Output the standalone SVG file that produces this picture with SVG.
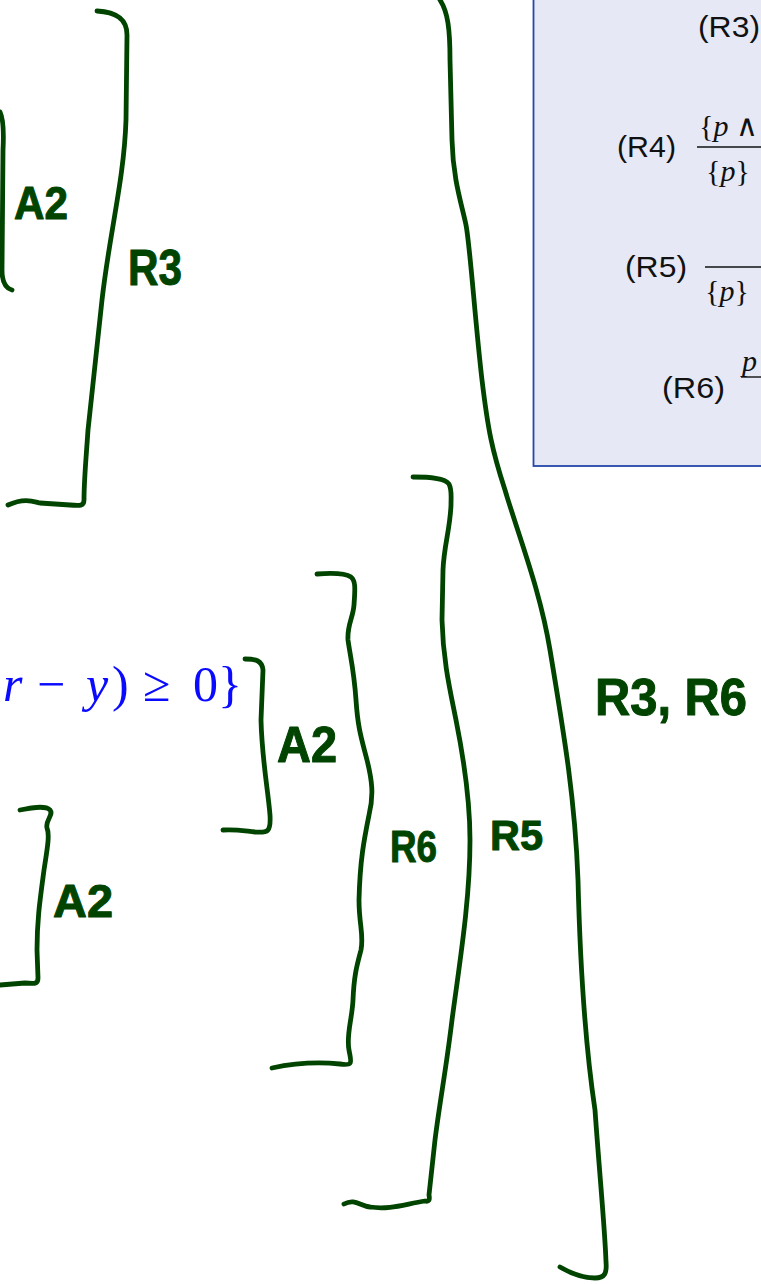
<svg xmlns="http://www.w3.org/2000/svg" width="761" height="1284" viewBox="0 0 761 1284">
<style>
.ink{fill:none;stroke:#004400;stroke-width:4.8;stroke-linecap:round;stroke-linejoin:round}
.hw{font-family:"Liberation Sans","DejaVu Sans",sans-serif;font-weight:bold;fill:#004400;stroke:#004400;stroke-width:1;stroke-linejoin:round}
.rule{font-family:"Liberation Sans",Arial,sans-serif;font-size:29px;fill:#111}
.m{font-family:"Liberation Serif","DejaVu Serif",serif;font-size:30px;fill:#111}
.blue{font-family:"Liberation Serif","DejaVu Serif",serif;font-size:50px;fill:#0a0aff}
</style>
<rect width="761" height="1284" fill="#ffffff"/>
<g id="rules-box">
<rect x="533.5" y="-4" width="240" height="470" fill="#e6e9f5" stroke="#2348a8" stroke-width="1.8"/>
<text class="rule" x="698" y="37" textLength="62" lengthAdjust="spacingAndGlyphs">(R3)</text>
<text class="rule" x="617" y="157" textLength="59" lengthAdjust="spacingAndGlyphs">(R4)</text>
<text class="m" x="699" y="136">{<tspan font-style="italic">p</tspan> ∧</text>
<line x1="697" y1="147" x2="761" y2="147" stroke="#111" stroke-width="1.4"/>
<text class="m" x="706" y="181">{<tspan font-style="italic">p</tspan>}</text>
<text class="rule" x="625" y="277" textLength="62" lengthAdjust="spacingAndGlyphs">(R5)</text>
<line x1="705" y1="267" x2="761" y2="267" stroke="#111" stroke-width="1.4"/>
<text class="m" x="705" y="301">{<tspan font-style="italic">p</tspan>}</text>
<text class="rule" x="662" y="398" textLength="63" lengthAdjust="spacingAndGlyphs">(R6)</text>
<text class="m" x="742" y="371" font-style="italic">p</text>
<line x1="741" y1="377" x2="761" y2="377" stroke="#111" stroke-width="1.4"/>
</g>
<g id="formula">
<text class="blue" y="701"><tspan x="3" font-style="italic">r</tspan><tspan x="37">−</tspan><tspan x="86" font-style="italic">y</tspan><tspan x="112">)</tspan><tspan x="143">≥</tspan><tspan x="193">0</tspan><tspan x="218">}</tspan></text>
</g>
<g id="connectors">
<path id="br-r3" class="ink" d="M97,11 C115,12 127,18 127,35 L126,120 C124,180 110,230 102,300 L88,430 C86,460 84,480 84,500 C84,506 80,506 70,505 L40,503 C35,502 25,497 8,505"/>
<path id="br-a2-top" class="ink" d="M0,112 C3,118 4,130 3,150 L2,270 C2,282 5,288 12,290"/>
<path id="br-r3r6" class="ink" d="M440,0 C448,12 450,30 450,60 L452,140 C453,180 462,205 466,225 C470,245 475,320 482,380 C488,430 492,450 505,490 C520,540 540,590 550,650 C565,740 575,800 578,880 C580,960 586,1050 595,1110 C600,1180 605,1230 606,1262 C607,1273 605,1278 595,1278 C585,1278 572,1274 560,1267"/>
<path id="br-r5" class="ink" d="M413,477 C430,477 445,478 449,484 C452,490 451,495 451,505 C450,530 444,545 443,570 L442,620 C443,660 450,690 456,720 C464,760 470,800 470,840 C470,900 460,960 452,1020 C446,1070 440,1100 435,1140 L429,1195 C430,1200 429,1202 425,1201 C405,1204 390,1210 370,1207 C360,1206 355,1198 344,1204"/>
<path id="br-r6" class="ink" d="M317,574 C330,573 345,573 351,577 C356,581 355,590 354,605 C353,618 347,625 348,640 C350,655 354,670 356,700 C358,730 362,740 367,760 C372,780 374,795 369,815 C364,840 360,860 359,900 C359,925 364,935 361,950 C357,965 354,975 353,1000 C352,1020 346,1035 349,1050 C351,1062 354,1066 340,1064 C320,1062 300,1062 272,1068"/>
<path id="br-a2-mid" class="ink" d="M245,659 C255,659 262,660 263,670 L261,720 C262,760 268,790 270,815 C271,832 268,833 255,832 C245,831 235,829 223,830"/>
<path id="br-a2-low" class="ink" d="M20,810 C30,808 45,805 50,810 C54,815 45,820 47,828 C50,835 47,850 44,870 C40,900 37,920 37,950 L38,978 C38,984 35,984 25,983 L0,985"/>
</g>
<g id="labels">
<text id="lbl-a2-top" class="hw" x="14" y="219" font-size="46" textLength="54" lengthAdjust="spacingAndGlyphs">A2</text>
<text id="lbl-r3" class="hw" x="128" y="285" font-size="50" textLength="54" lengthAdjust="spacingAndGlyphs">R3</text>
<text id="lbl-a2-mid" class="hw" x="277" y="762" font-size="50" textLength="60" lengthAdjust="spacingAndGlyphs">A2</text>
<text id="lbl-r6" class="hw" x="390" y="862" font-size="44" textLength="47" lengthAdjust="spacingAndGlyphs">R6</text>
<text id="lbl-r5" class="hw" x="490" y="850" font-size="42" textLength="53" lengthAdjust="spacingAndGlyphs">R5</text>
<text id="lbl-a2-low" class="hw" x="53" y="917" font-size="46" textLength="60" lengthAdjust="spacingAndGlyphs">A2</text>
<text id="lbl-r3r6" class="hw" x="595" y="715" font-size="52" textLength="152" lengthAdjust="spacingAndGlyphs">R3, R6</text>
</g>
</svg>
